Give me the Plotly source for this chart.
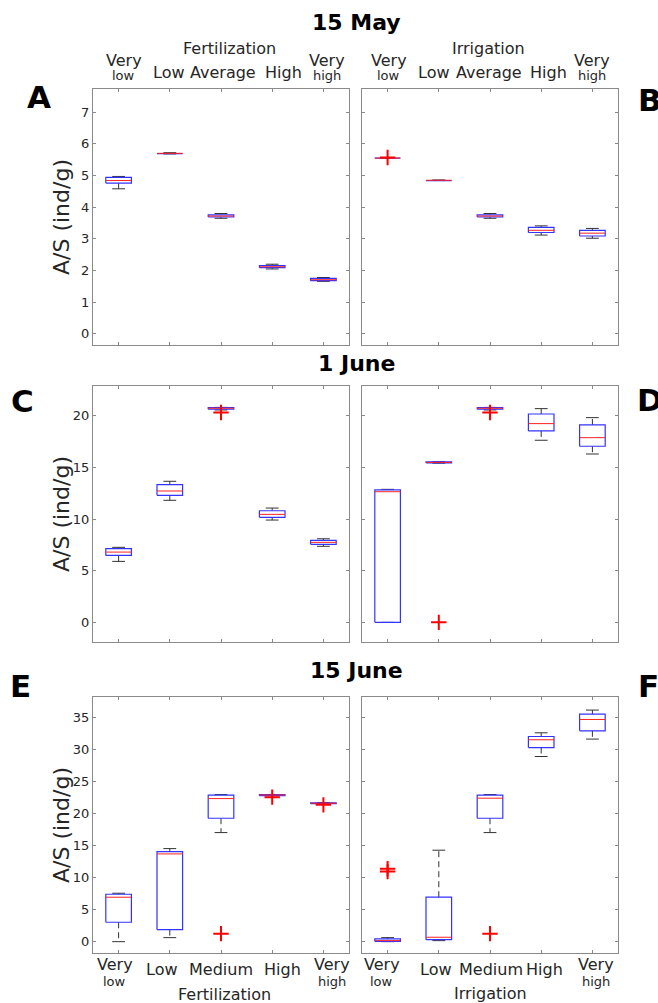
import plotly.graph_objects as go

W, H = 658, 1003
FONT = "DejaVu Sans"
TXT = "#262626"

CATS = [1, 2, 3, 4, 5]
top_labels_fert = ["Very low", "Low", "Average", "High", "Very high"]
top_labels_irr = ["Very low", "Low", "Average", "High", "Very high"]
bot_labels_fert = ["Very low", "Low", "Medium", "High", "Very high"]
bot_labels_irr = ["Very low", "Low", "Medium", "High", "Very high"]

# 15 May - fertilization
may_fert_lo = [4.58, 5.68, 3.65, 2.05, 1.66]
may_fert_q1 = [4.76, 5.69, 3.69, 2.09, 1.68]
may_fert_med = [4.84, 5.70, 3.72, 2.12, 1.71]
may_fert_q3 = [4.94, 5.71, 3.76, 2.16, 1.75]
may_fert_hi = [4.97, 5.72, 3.80, 2.20, 1.78]
may_fert_out = [[], [], [], [], []]

# 15 May - irrigation
may_irr_lo = [5.55, 4.84, 3.65, 3.12, 3.02]
may_irr_q1 = [5.55, 4.84, 3.69, 3.20, 3.09]
may_irr_med = [5.55, 4.85, 3.72, 3.27, 3.18]
may_irr_q3 = [5.55, 4.86, 3.76, 3.36, 3.27]
may_irr_hi = [5.55, 4.86, 3.80, 3.41, 3.33]
may_irr_out = [[5.57], [], [], [], []]

# 1 June - fertilization
jun1_fert_lo = [5.90, 11.81, 20.55, 9.90, 7.36]
jun1_fert_q1 = [6.48, 12.29, 20.62, 10.16, 7.55]
jun1_fert_med = [6.80, 12.71, 20.72, 10.45, 7.74]
jun1_fert_q3 = [7.13, 13.32, 20.78, 10.80, 7.94]
jun1_fert_hi = [7.26, 13.65, 20.80, 11.06, 8.09]
jun1_fert_out = [[], [], [20.30], [], []]

# 1 June - irrigation
jun1_irr_lo = [0.0, 15.40, 20.55, 17.62, 16.29]
jun1_irr_q1 = [0.0, 15.42, 20.62, 18.52, 17.04]
jun1_irr_med = [12.64, 15.48, 20.72, 19.23, 17.87]
jun1_irr_q3 = [12.81, 15.52, 20.78, 20.16, 19.10]
jun1_irr_hi = [12.87, 15.54, 20.80, 20.68, 19.81]
jun1_irr_out = [[], [0.0], [20.30], [], []]

# 15 June - fertilization
jun15_fert_lo = [0.0, 0.63, 17.03, 22.80, 21.50]
jun15_fert_q1 = [3.03, 1.88, 19.27, 22.80, 21.55]
jun15_fert_med = [6.94, 13.70, 22.34, 22.90, 21.62]
jun15_fert_q3 = [7.40, 14.06, 22.87, 22.95, 21.68]
jun15_fert_hi = [7.56, 14.53, 22.97, 22.98, 21.70]
jun15_fert_out = [[], [], [1.25], [22.56], [21.36]]

# 15 June - irrigation
jun15_irr_lo = [0.0, 0.16, 17.03, 28.91, 31.63]
jun15_irr_q1 = [0.05, 0.31, 19.27, 30.31, 32.92]
jun15_irr_med = [0.16, 0.69, 22.40, 31.52, 34.69]
jun15_irr_q3 = [0.42, 6.94, 22.87, 32.03, 35.53]
jun15_irr_hi = [0.63, 14.28, 22.97, 32.61, 36.16]
jun15_irr_out = [[11.40, 10.94], [], [1.25], [], []]

BOX_HALF = 0.25
CAP_HALF = 0.125


def fx(p):
    return p / W


def fy(p):
    return 1 - p / H


fig = go.Figure()


def add_boxes(xa, ya, lo, q1, med, q3, hi, out):
    wx, wy, cx, cy, bx, by, mx, my, ox, oy = ([] for _ in range(10))
    for c, l, a, m, b, h, o in zip(CATS, lo, q1, med, q3, hi, out):
        wx += [c, c, None, c, c, None]
        wy += [b, h, None, a, l, None]
        cx += [c - CAP_HALF, c + CAP_HALF, None, c - CAP_HALF, c + CAP_HALF, None]
        cy += [h, h, None, l, l, None]
        bx += [c - BOX_HALF, c + BOX_HALF, c + BOX_HALF, c - BOX_HALF, c - BOX_HALF, None]
        by += [a, a, b, b, a, None]
        mx += [c - BOX_HALF, c + BOX_HALF, None]
        my += [m, m, None]
        ox += [c] * len(o)
        oy += list(o)
    common = dict(xaxis=xa, yaxis=ya, hoverinfo="skip", showlegend=False)
    fig.add_trace(go.Scatter(x=wx, y=wy, mode="lines",
                             line=dict(color="#333333", width=1, dash="6px,4px"), **common))
    fig.add_trace(go.Scatter(x=cx, y=cy, mode="lines",
                             line=dict(color="#333333", width=1), **common))
    fig.add_trace(go.Scatter(x=bx, y=by, mode="lines",
                             line=dict(color="#3333ff", width=1.2), **common))
    fig.add_trace(go.Scatter(x=mx, y=my, mode="lines",
                             line=dict(color="#ff2020", width=1), **common))
    fig.add_trace(go.Scatter(x=ox, y=oy, mode="markers",
                             marker=dict(symbol="cross-thin", size=11,
                                         line=dict(color="#ff0000", width=2)), **common))


# panel frames in pixels: (left, top)
PW = 256
panels = [
    ("x", "y", 93, 89, [-0.35, 7.73], list(range(0, 8)),
     (may_fert_lo, may_fert_q1, may_fert_med, may_fert_q3, may_fert_hi, may_fert_out)),
    ("x2", "y2", 362, 89, [-0.35, 7.73], list(range(0, 8)),
     (may_irr_lo, may_irr_q1, may_irr_med, may_irr_q3, may_irr_hi, may_irr_out)),
    ("x3", "y3", 93, 386, [-1.9, 22.87], list(range(0, 21, 5)),
     (jun1_fert_lo, jun1_fert_q1, jun1_fert_med, jun1_fert_q3, jun1_fert_hi, jun1_fert_out)),
    ("x4", "y4", 362, 386, [-1.9, 22.87], list(range(0, 21, 5)),
     (jun1_irr_lo, jun1_irr_q1, jun1_irr_med, jun1_irr_q3, jun1_irr_hi, jun1_irr_out)),
    ("x5", "y5", 93, 697, [-1.77, 38.2], list(range(0, 36, 5)),
     (jun15_fert_lo, jun15_fert_q1, jun15_fert_med, jun15_fert_q3, jun15_fert_hi, jun15_fert_out)),
    ("x6", "y6", 362, 697, [-1.77, 38.2], list(range(0, 36, 5)),
     (jun15_irr_lo, jun15_irr_q1, jun15_irr_med, jun15_irr_q3, jun15_irr_hi, jun15_irr_out)),
]

AX_COLOR = "#8a8a8a"
layout_axes = {}
for i, (xa, ya, left, top, yr, yt, stats) in enumerate(panels):
    add_boxes(xa, ya, *stats)
    xkey = "xaxis" if i == 0 else f"xaxis{i + 1}"
    ykey = "yaxis" if i == 0 else f"yaxis{i + 1}"
    layout_axes[xkey] = dict(
        domain=[fx(left), fx(left + PW)], anchor=ya, range=[0.5, 5.5],
        tickvals=CATS, showticklabels=False, ticks="inside", ticklen=3,
        tickcolor=AX_COLOR, showline=True, linecolor=AX_COLOR, linewidth=1,
        mirror="ticks", showgrid=False, zeroline=False, fixedrange=True)
    layout_axes[ykey] = dict(
        domain=[fy(top + PW), fy(top)], anchor=xa, range=yr, tickvals=yt,
        showticklabels=(left < 200), ticks="inside", ticklen=3,
        tickcolor=AX_COLOR, showline=True, linecolor=AX_COLOR, linewidth=1,
        mirror="ticks", showgrid=False, zeroline=False, fixedrange=True,
        tickfont=dict(family=FONT, size=13, color=TXT))

annotations = []


def note(text, x, y, size, bold=False, xref="paper", angle=0, color=TXT,
         xshift=0):
    annotations.append(dict(
        text=f"<b>{text}</b>" if bold else text, x=x, y=y, xref=xref, yref="paper",
        showarrow=False, textangle=angle, xanchor="center", yanchor="middle",
        xshift=xshift, font=dict(family=FONT, size=size, color=color)))


def category_labels(labels, xref, shifts, y_single, y_first, y_second):
    # labels sit in a crowded row, so each one gets a small horizontal nudge
    for c, lab, dx in zip(CATS, labels, shifts):
        parts = lab.split(" ")
        if len(parts) == 2:
            note(parts[0], c, fy(y_first), 16, xref=xref, xshift=dx)
            note(parts[1], c, fy(y_second), 13, xref=xref, xshift=dx)
        else:
            note(lab, c, fy(y_single), 16, xref=xref, xshift=dx)


# titles of each date row
note("15 May", fx(356), fy(22), 22, bold=True, color="black")
note("1 June", fx(357), fy(363), 22, bold=True, color="black")
note("15 June", fx(357), fy(670), 22, bold=True, color="black")

# treatment names
note("Fertilization", fx(229), fy(48), 16)
note("Irrigation", fx(488), fy(48), 16)
note("Fertilization", fx(224), fy(994), 16)
note("Irrigation", fx(490), fy(993), 16)

category_labels(top_labels_fert, "x", [5, -1, 2, 11, 4], 72, 61, 76)
category_labels(top_labels_irr, "x2", [1, -5, -1, 7, 0], 72, 61, 76)
category_labels(bot_labels_fert, "x5", [-4, -8, 0, 10, 9], 969, 964, 981)
category_labels(bot_labels_irr, "x6", [-6, -3, 1, 3, 4], 969, 964, 981)

# y-axis titles
for top in (89, 386, 697):
    note("A/S (ind/g)", fx(61), fy(top + PW / 2), 22, angle=-90)

# panel letters
for letter, px, py in [("A", 39, 97), ("B", 650, 100), ("C", 22, 401),
                       ("D", 650, 400), ("E", 20, 686), ("F", 648, 686)]:
    note(letter, fx(px), fy(py), 31, bold=True, color="black")

fig.update_layout(
    width=W, height=H, autosize=False,
    margin=dict(l=0, r=0, t=0, b=0),
    paper_bgcolor="white", plot_bgcolor="white",
    annotations=annotations, **layout_axes)

fig.write_html("out.html")
